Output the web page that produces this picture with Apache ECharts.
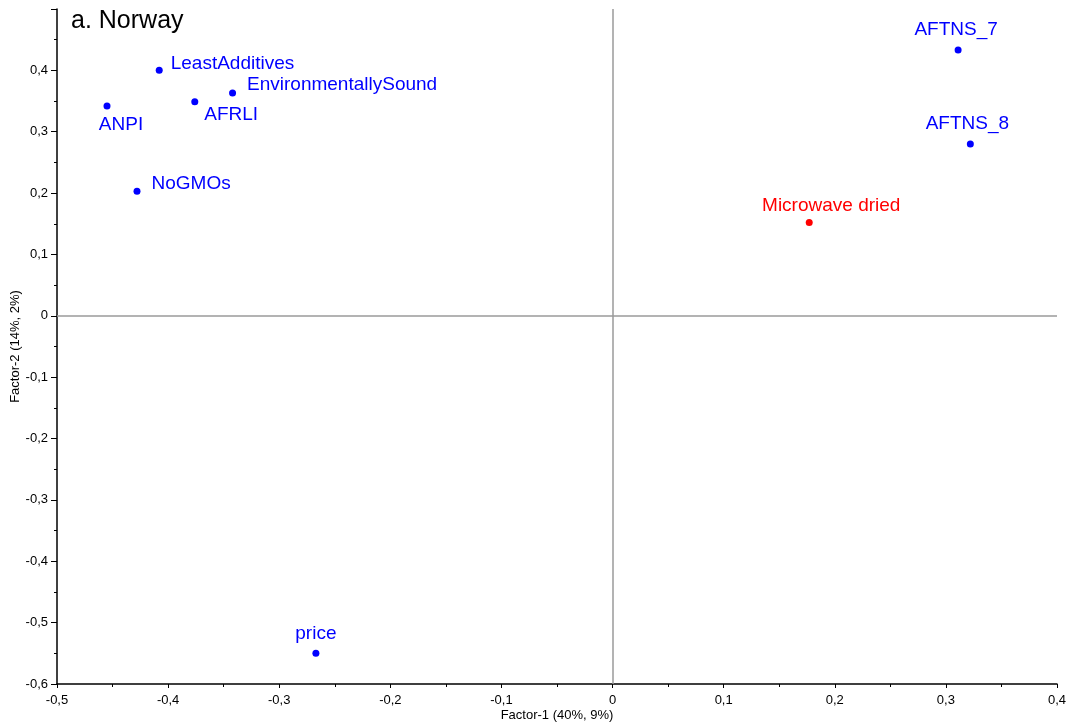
<!DOCTYPE html>
<html>
<head>
<meta charset="utf-8">
<script src="https://cdn.jsdelivr.net/npm/echarts@6/dist/echarts.min.js"></script>
<style>
html,body{margin:0;padding:0;background:#fff;}
#chart{width:1071px;height:723px;}
</style>
</head>
<body>
<div id="chart"></div>
<script>
// ---- data ----
const attrNames = ["LeastAdditives", "EnvironmentallySound", "AFRLI", "ANPI", "NoGMOs", "price", "AFTNS_7", "AFTNS_8"];
const attrX = [-0.408, -0.342, -0.376, -0.455, -0.428, -0.267, 0.311, 0.322];
const attrY = [0.400, 0.363, 0.349, 0.342, 0.203, -0.550, 0.433, 0.280];
const treatNames = ["Microwave dried"];
const treatX = [0.177];
const treatY = [0.152];
const titleText = "a. Norway";
const xName = "Factor-1 (40%, 9%)";
const yName = "Factor-2 (14%, 2%)";

// ---- label placement (style) ----
const labelStyle = {
  "LeastAdditives": {position: 'right', distance: 8, offset: [0, -7]},
  "EnvironmentallySound": {position: 'right', distance: 11, offset: [0, -8]},
  "AFRLI": {position: 'right', distance: 6, offset: [0, 13]},
  "ANPI": {position: 'bottom', distance: 6, offset: [14, 0]},
  "NoGMOs": {position: 'right', distance: 11, offset: [0, -7]},
  "price": {position: 'top', distance: 7, offset: [0, 0]},
  "AFTNS_7": {position: 'top', distance: 7, offset: [-2, 0]},
  "AFTNS_8": {position: 'top', distance: 7, offset: [-3, 0]},
  "Microwave dried": {position: 'top', distance: 4, offset: [22, 0]}
};

function buildData(names, xs, ys) {
  return names.map((n, i) => ({
    name: n,
    value: [xs[i], ys[i]],
    label: Object.assign({show: true, formatter: '{b}'}, labelStyle[n] || {})
  }));
}

const fmt = v => {
  const r = Math.round(v * 10) / 10;
  if (Math.abs(r) < 1e-9) return '0';
  return r.toFixed(1).replace('.', ',');
};

const font = '"Liberation Sans", Arial, sans-serif';
const chart = echarts.init(document.getElementById('chart'), null, {renderer: 'canvas'});
chart.setOption({
  animation: false,
  backgroundColor: '#ffffff',
  textStyle: {fontFamily: font},
  title: {
    text: titleText, left: 66, top: 4,
    textStyle: {fontFamily: font, fontSize: 25, fontWeight: 'normal', color: '#000'}
  },
  grid: {left: 57, right: 14, top: 9, bottom: 39, containLabel: false, outerBoundsMode: 'none'},
  xAxis: {
    type: 'value', min: -0.5, max: 0.4, interval: 0.1,
    name: xName, nameLocation: 'middle', nameGap: 25, nameMoveOverlap: false,
    nameTextStyle: {fontFamily: font, fontSize: 13, color: '#000'},
    axisLine: {onZero: false, lineStyle: {color: '#000', width: 1.5}},
    axisTick: {show: true, inside: false, length: 4, lineStyle: {color: '#000', width: 1}},
    minorTick: {show: true, splitNumber: 2, length: 3, lineStyle: {color: '#000', width: 1}},
    axisLabel: {formatter: fmt, fontFamily: font, fontSize: 13, color: '#000', margin: 10},
    splitLine: {show: false}
  },
  yAxis: {
    type: 'value', min: -0.6, max: 0.5, interval: 0.1,
    name: yName, nameLocation: 'middle', nameGap: 35, nameRotate: 90, nameMoveOverlap: false,
    nameTextStyle: {fontFamily: font, fontSize: 13, color: '#000'},
    axisLine: {onZero: false, lineStyle: {color: '#000', width: 1.5}},
    axisTick: {show: true, inside: false, length: 6, lineStyle: {color: '#000', width: 1}},
    minorTick: {show: true, splitNumber: 2, length: 3, lineStyle: {color: '#000', width: 1}},
    axisLabel: {formatter: fmt, fontFamily: font, fontSize: 13, color: '#000', margin: 9, showMaxLabel: false},
    splitLine: {show: false}
  },
  series: [
    {
      type: 'scatter', name: 'attributes', symbolSize: 7,
      itemStyle: {color: '#0000ff', opacity: 1},
      label: {color: '#0000ff', opacity: 1, fontFamily: font, fontSize: 19},
      data: buildData(attrNames, attrX, attrY),
      markLine: {
        silent: true, symbol: ['none', 'none'],
        label: {show: false},
        lineStyle: {color: '#9a9a9a', width: 1.5, type: 'solid', opacity: 1},
        data: [{xAxis: 0}, {yAxis: 0}]
      },
      z: 3
    },
    {
      type: 'scatter', name: 'treatment', symbolSize: 7,
      itemStyle: {color: '#ff0000', opacity: 1},
      label: {color: '#ff0000', opacity: 1, fontFamily: font, fontSize: 19},
      data: buildData(treatNames, treatX, treatY),
      z: 3
    }
  ]
});
</script>
</body>
</html>
